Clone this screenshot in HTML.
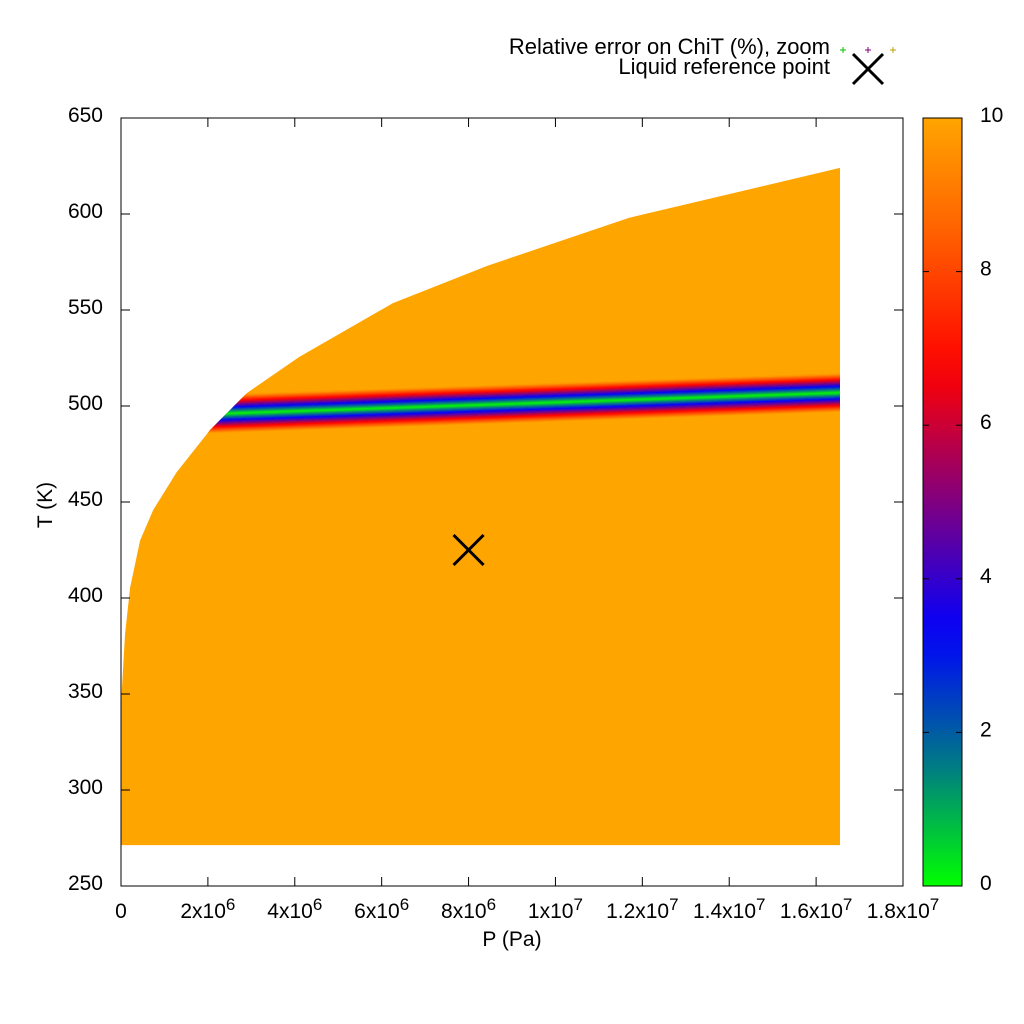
<!DOCTYPE html>
<html><head><meta charset="utf-8"><style>
body{margin:0;background:#fff}
svg{display:block;font-family:"Liberation Sans",sans-serif}
</style></head><body>
<svg id="chart" width="1024" height="1024" viewBox="0 0 1024 1024"></svg>
<script>
// ---- data ----
const satP = [0, 0.015e6, 0.092e6, 0.21e6, 0.44e6, 0.745e6, 1.28e6, 2.05e6, 2.9e6, 4.1e6, 6.26e6, 8.43e6, 11.69e6, 1.655e7];
const satT = [330, 350, 381, 405.5, 430, 446, 465.5, 487.5, 506.8, 525.5, 553.6, 573, 598, 624];
const bottomT = 271.3;
const bandP = [2.2e6, 1.655e7];
const bandCenterT = [496, 507];
const bandHalf = 10;
const refP = [8.0e6];
const refT = [425];
const xTicks = [0, 2e6, 4e6, 6e6, 8e6, 1e7, 1.2e7, 1.4e7, 1.6e7, 1.8e7];
const xTickMant = ["0", "2x10", "4x10", "6x10", "8x10", "1x10", "1.2x10", "1.4x10", "1.6x10", "1.8x10"];
const xTickExp = ["", "6", "6", "6", "6", "7", "7", "7", "7", "7"];
const yTicks = [250, 300, 350, 400, 450, 500, 550, 600, 650];
const cbTicks = [0, 2, 4, 6, 8, 10];
const palVals = [0, 1.5, 3.3, 5, 6.7, 8.5, 10];
const palCols = ["#00ff00", "#008080", "#0000ff", "#800080", "#ff0000", "#ff6000", "#ffa500"];

// ---- axes ----
const L = 121, R = 903, T = 118, B = 886;
const X = p => L + (p - 0) / 1.8e7 * (R - L);
const Y = t => B - (t - 250) / 400 * (B - T);
const CBX = 923, CBW = 39;
const CY = v => B - v / 10 * (B - T);
const NS = "http://www.w3.org/2000/svg";
const svg = document.getElementById('chart');
function mk(tag, attrs, parent) {
  const e = document.createElementNS(NS, tag);
  for (const k in attrs) e.setAttribute(k, attrs[k]);
  (parent || svg).appendChild(e);
  return e;
}
function hex(c){return [parseInt(c.slice(1,3),16),parseInt(c.slice(3,5),16),parseInt(c.slice(5,7),16)];}
function pal(v){
  v=Math.max(0,Math.min(10,v));
  for(let i=0;i<palVals.length-1;i++){
    if(v<=palVals[i+1]){
      const f=(v-palVals[i])/(palVals[i+1]-palVals[i]);
      const a=hex(palCols[i]),b=hex(palCols[i+1]);
      return `rgb(${a.map((x,j)=>Math.round(x+(b[j]-x)*f)).join(',')})`;
    }
  }
  return palCols[palCols.length-1];
}

// region path
let d = `M${X(satP[0])},${Y(bottomT)}`;
satP.forEach((p,i)=>{ d += ` L${X(p)},${Y(satT[i])}`; });
d += ` L${X(satP[satP.length-1])},${Y(bottomT)} Z`;
const defs = mk('defs',{});
const cp = mk('clipPath',{id:'reg'},defs);
mk('path',{d:d},cp);
const region = mk('path',{d:d,fill:'#ffa500'});



// band
const bandG = mk('g',{'clip-path':'url(#reg)'});


const step = 0.5;
for(let dt=-bandHalf; dt<bandHalf; dt+=step){
  const v = Math.abs(dt+step/2)*10/bandHalf;
  const x0=X(0), x1=X(bandP[1]);
  const slope=(bandCenterT[1]-bandCenterT[0])/(bandP[1]-bandP[0]);
  const t0=bandCenterT[0]+slope*(0-bandP[0]);
  const t1=bandCenterT[1];
  const s = mk('polygon',{points:`${x0},${Y(t0+dt)} ${x1},${Y(t1+dt)} ${x1},${Y(t1+dt+step)} ${x0},${Y(t0+dt+step)}`,fill:pal(v),stroke:pal(v),'stroke-width':0.3},bandG);
  
  
}

// frame
const frame = mk('rect',{x:L,y:T,width:R-L,height:B-T,fill:'none',stroke:'#000','stroke-width':1});



// x ticks
xTicks.forEach((p,i)=>{
  const x=X(p);
  mk('line',{x1:x,x2:x,y1:B,y2:B-9,stroke:'#000'});
  mk('line',{x1:x,x2:x,y1:T,y2:T+9,stroke:'#000'});
  const t = mk('text',{x:x,y:B+32,'font-size':21,'text-anchor':'middle'});
  
  
  t.textContent = xTickMant[i];
  if(xTickExp[i]){
    const ts = mk('tspan',{dy:-8,'font-size':17},t);
    ts.textContent = xTickExp[i];
  }
});
yTicks.forEach(v=>{
  const y=Y(v);
  mk('line',{x1:L,x2:L+9,y1:y,y2:y,stroke:'#000'});
  mk('line',{x1:R,x2:R-9,y1:y,y2:y,stroke:'#000'});
  const t = mk('text',{x:103,y:y+4,'font-size':21,'text-anchor':'end'});
  
  
  t.textContent=v;
});
const xt = mk('text',{x:512,y:946,'font-size':21,'text-anchor':'middle'});


xt.textContent='P (Pa)';
const yt = mk('text',{x:0,y:0,'font-size':21,'text-anchor':'middle',transform:`translate(52,505) rotate(-90)`});


yt.textContent='T (K)';

// reference point
refP.forEach((p,i)=>{
  const x=X(p),y=Y(refT[i]),s=15;
  const g=mk('g',{stroke:'#000','stroke-width':3});
  
  
  mk('line',{x1:x-s,y1:y-s,x2:x+s,y2:y+s},g);
  mk('line',{x1:x-s,y1:y+s,x2:x+s,y2:y-s},g);
});

// colorbar
const lg = mk('linearGradient',{id:'cbg',x1:0,y1:1,x2:0,y2:0},defs);
for(let v=0; v<=10; v+=0.5){ mk('stop',{offset:v/10,'stop-color':pal(v)},lg); }
const cb = mk('rect',{x:CBX,y:T,width:CBW,height:B-T,fill:'url(#cbg)',stroke:'#000'});


cbTicks.forEach(v=>{
  const y=CY(v);
  mk('line',{x1:CBX,x2:CBX+6,y1:y,y2:y,stroke:'#000'});
  mk('line',{x1:CBX+CBW,x2:CBX+CBW-6,y1:y,y2:y,stroke:'#000'});
  const t=mk('text',{x:980,y:y+4,'font-size':21});
  
  
  t.textContent=v;
});

// legend
const l1=mk('text',{x:830,y:54,'font-size':22,'text-anchor':'end'});


l1.textContent='Relative error on ChiT (%), zoom';
[['#00c000',843],['#800080',868],['#c0a000',893]].forEach(([c,x])=>{
  const g=mk('g',{stroke:c,'stroke-width':1});
  
  
  mk('line',{x1:x-3,x2:x+3,y1:50,y2:50},g);
  mk('line',{x1:x,x2:x,y1:47,y2:53},g);
});
const l2=mk('text',{x:830,y:74,'font-size':22,'text-anchor':'end'});


l2.textContent='Liquid reference point';
const lx=mk('g',{stroke:'#000','stroke-width':3});


mk('line',{x1:853,y1:54,x2:883,y2:84},lx);
mk('line',{x1:853,y1:84,x2:883,y2:54},lx);
</script>
</body></html>
